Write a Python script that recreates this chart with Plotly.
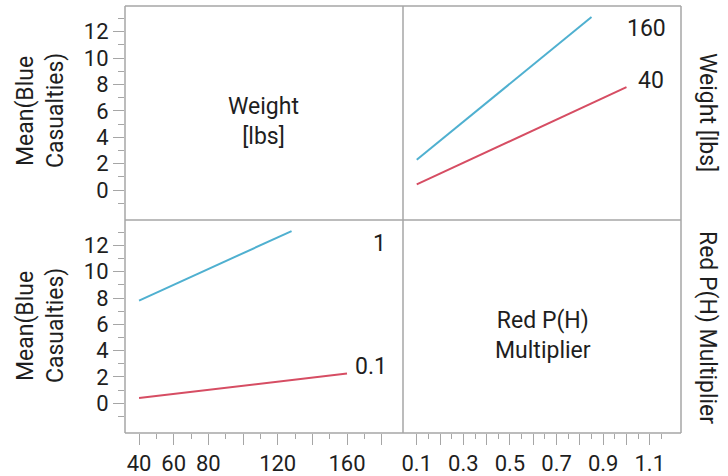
import plotly.graph_objects as go

# Interaction profiles: Mean(Blue Casualties)
# Top-right: response vs Red P(H) Multiplier, one line per Weight level
mult_x_w160 = [0.1, 0.85]
casualties_w160 = [2.3, 13.1]
mult_x_w40 = [0.1, 1.0]
casualties_w40 = [0.43, 7.8]

# Bottom-left: response vs Weight, one line per Red P(H) Multiplier level
weight_x_m1 = [40, 128]
casualties_m1 = [7.8, 13.1]
weight_x_m01 = [40, 160]
casualties_m01 = [0.4, 2.25]

weight_levels = ["160", "40"]
mult_levels = ["1", "0.1"]

# Axis ticks
y_tickvals = [0, 2, 4, 6, 8, 10, 12]
y_minor = [-1, 1, 3, 5, 7, 9, 11, 13]
weight_tickvals = [40, 60, 80, 100, 120, 140, 160, 180]
weight_ticktext = ["40", "60", "80", "", "120", "", "160", ""]
weight_minor = [50, 70, 90, 110, 130, 150, 170]
mult_tickvals = [0.1, 0.2, 0.3, 0.4, 0.5, 0.6, 0.7, 0.8, 0.9, 1.0, 1.1]
mult_ticktext = ["0.1", "", "0.3", "", "0.5", "", "0.7", "", "0.9", "", "1.1"]
mult_minor = [0.15, 0.25, 0.35, 0.45, 0.55, 0.65, 0.75, 0.85, 0.95, 1.05, 1.15]

# Response title, split over two rotated lines
response_title = ["Mean(Blue", "Casualties)"]

CYAN = "#4fb0d0"
RED = "#d64d63"
FRAME = "#a6a6a6"
TEXT = "#1e1e1e"
FONT = "Roboto"
FS = 22      # tick labels
FS_T = 23    # titles and labels

W, H = 728, 476
x0, xm, x1 = 125 / W, 403 / W, 681 / W
yb, ym, yt = 1 - 433 / H, 1 - 220 / H, 1 - 6 / H
y_range = [-2.27, 13.94]
weight_range = [31.9, 192.3]
mult_range = [0.041, 1.234]

fig = go.Figure()

line = dict(width=2)
# Top-right panel (x3 / y3)
fig.add_trace(go.Scatter(x=mult_x_w160, y=casualties_w160, mode="lines",
                         line=dict(color=CYAN, **line), xaxis="x3", yaxis="y3"))
fig.add_trace(go.Scatter(x=mult_x_w40, y=casualties_w40, mode="lines",
                         line=dict(color=RED, **line), xaxis="x3", yaxis="y3"))
# Bottom-left panel (x / y2)
fig.add_trace(go.Scatter(x=weight_x_m1, y=casualties_m1, mode="lines",
                         line=dict(color=CYAN, **line), xaxis="x", yaxis="y2"))
fig.add_trace(go.Scatter(x=weight_x_m01, y=casualties_m01, mode="lines",
                         line=dict(color=RED, **line), xaxis="x", yaxis="y2"))
# Empty diagonal panels still carry their axes
fig.add_trace(go.Scatter(x=[], y=[], mode="lines", xaxis="x", yaxis="y",
                         hoverinfo="skip"))
fig.add_trace(go.Scatter(x=[], y=[], mode="lines", xaxis="x2", yaxis="y4",
                         hoverinfo="skip"))

tickfont = dict(family=FONT, size=FS, color=TEXT)


def yax(domain):
    return dict(domain=domain, range=y_range, anchor="x",
                showgrid=False, zeroline=False, showline=False, automargin=False,
                tickmode="array", tickvals=y_tickvals, ticks="outside",
                ticklen=11, tickwidth=1.3, tickcolor=FRAME, tickfont=tickfont,
                minor=dict(tickmode="array", tickvals=y_minor, ticks="outside",
                           ticklen=6, tickwidth=1.3, tickcolor=FRAME))


def xax(domain, rng, anchor, vals, text, minor_vals):
    return dict(domain=domain, range=rng, anchor=anchor, automargin=False,
                showgrid=False, zeroline=False, showline=False,
                tickmode="array", tickvals=vals, ticktext=text,
                ticks="outside", ticklen=11, tickwidth=1.3, tickcolor=FRAME,
                tickfont=tickfont, tickangle=0,
                minor=dict(tickmode="array", tickvals=minor_vals, ticks="outside",
                           ticklen=5, tickwidth=1.3, tickcolor=FRAME))


hidden = dict(visible=False, showgrid=False, zeroline=False)

fig.update_layout(
    width=W, height=H,
    margin=dict(l=0, r=0, t=0, b=0),
    paper_bgcolor="white", plot_bgcolor="white",
    showlegend=False,
    font=dict(family=FONT, size=FS_T, color=TEXT),
    yaxis=yax([ym, yt]),
    yaxis2=yax([yb, ym]),
    xaxis=xax([x0, xm], weight_range, "y2", weight_tickvals, weight_ticktext,
              weight_minor),
    xaxis2=xax([xm, x1], mult_range, "y4", mult_tickvals, mult_ticktext,
               mult_minor),
    xaxis3=dict(domain=[xm, x1], range=mult_range, anchor="y3", **hidden),
    yaxis3=dict(domain=[ym, yt], range=y_range, anchor="x3", **hidden),
    yaxis4=dict(domain=[yb, ym], range=y_range, anchor="x2", **hidden),
)

# Panel frame and dividers
frame = dict(type="line", xref="paper", yref="paper",
             line=dict(color=FRAME, width=1.5))
fig.add_shape(x0=x0, x1=x1, y0=yt, y1=yt, **frame)
fig.add_shape(x0=x0, x1=x1, y0=yb, y1=yb, **frame)
fig.add_shape(x0=x0, x1=x1, y0=ym, y1=ym, **frame)
fig.add_shape(x0=x0, x1=x0, y0=yb, y1=yt, **frame)
fig.add_shape(x0=xm, x1=xm, y0=yb, y1=yt, **frame)
fig.add_shape(x0=x1, x1=x1, y0=yb, y1=yt, **frame)

centered = dict(showarrow=False, xanchor="center", yanchor="middle")

# Level labels at line ends
fig.add_annotation(x=1.084, y=12.2, xref="x3", yref="y3", text=weight_levels[0],
                   **centered)
fig.add_annotation(x=1.106, y=8.33, xref="x3", yref="y3", text=weight_levels[1],
                   **centered)
fig.add_annotation(x=179, y=12.15, xref="x", yref="y2", text=mult_levels[0],
                   **centered)
fig.add_annotation(x=173.8, y=2.8, xref="x", yref="y2", text=mult_levels[1],
                   **centered)

# Factor names on the diagonal
fig.add_annotation(x=263 / W, y=1 - 121 / H, xref="paper", yref="paper",
                   text="Weight<br>[lbs]", **centered)
fig.add_annotation(x=543 / W, y=1 - 335 / H, xref="paper", yref="paper",
                   text="Red P(H)<br>Multiplier", **centered)

# Response titles on the left of each row
for yc in (1 - 111 / H, 1 - 326 / H):
    for xc, txt in zip((25 / W, 55 / W), response_title):
        fig.add_annotation(x=xc, y=yc, xref="paper", yref="paper", text=txt,
                           textangle=-90, **centered)

# Column-factor titles on the right
fig.add_annotation(x=708 / W, y=1 - 112 / H, xref="paper", yref="paper",
                   text="Weight [lbs]", textangle=90, **centered)
fig.add_annotation(x=708 / W, y=1 - 327 / H, xref="paper", yref="paper",
                   text="Red P(H) Multiplier", textangle=90, **centered)

fig.write_html("out.html")
